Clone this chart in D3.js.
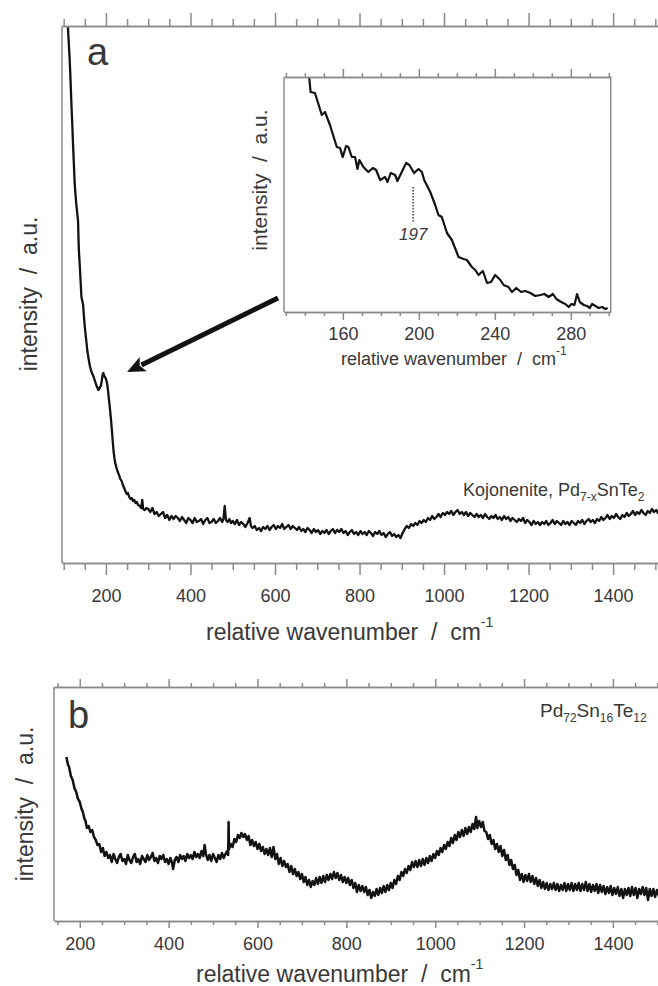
<!DOCTYPE html>
<html>
<head>
<meta charset="utf-8">
<script src="https://cdn.jsdelivr.net/npm/d3@7"></script>
<style>
  body { margin: 0; background: #fff; }
  svg { display: block; font-family: "Liberation Sans", Arial, sans-serif; }
</style>
</head>
<body>
<svg id="chart" width="658" height="986"></svg>
<script>
// --- data (wavenumber cm-1, intensity a.u.) ---
const kojonenite = [
  [108,545],[110,536],[112,520],[114,505],[116,485],[118,462],[120,442],[122,420],[124,400],[126,380],
  [128,368],[130,358],[132,350],[134,342],[135,325],[136,312],[138,298],[140,282],[142,266],[144,262],
  [146,258],[148,246],[150,236],[153,224],[156,212],[159,204],[162,197],[165,192],[168,189],[171,186],
  [174,182],[177,178],[180,175],[182,173],[184,174],[186,176],[188,177],[190,182],[192,188],[194,190],
  [196,187],[198,186],[200,184],[202,181],[204,176],[206,168],[208,160],[210,152],[212,143],[214,133],
  [216,122],[218,112],[220,105],[222,100],[225,95],[228,91],[231,88],[234,84],[237,82],[240,78],
  [243,75],[246,72],[249,69],[252,70],[255,66],[258,64],[261,65],[264,62],[267,63],[270,60],
  [273,61],[276,58],[280,57],[283,55],[286,63],[288,54],[292,53],[296,55],
  [300,54],[305,51],[310,55],[315,49],[320,51],[325,47],[330,49],[335,51],[340,45],[345,48],
  [350,43],[355,47],[360,44],[365,47],[370,45],[375,42],[380,46],[385,43],[390,40],[395,45],
  [400,43],[405,40],[410,45],[415,41],[420,42],[425,44],[430,39],[435,43],[440,45],[445,40],
  [450,41],[455,44],[460,40],[465,42],[470,45],[475,41],[478,44],[481,57],[484,43],[488,41],
  [492,44],[496,40],[500,42],[505,39],[510,43],[515,38],[520,41],[525,39],[530,36],[535,40],
  [540,45],[543,37],[547,35],[552,37],[557,33],[562,35],[567,32],[572,36],[577,34],[582,37],
  [587,33],[592,36],[597,38],[602,34],[607,37],[612,35],[617,39],[622,34],[627,36],[632,38],
  [637,34],[642,37],[647,35],[652,33],[657,36],[662,32],[667,34],[672,31],[677,35],[682,33],
  [687,30],[692,34],[697,31],[702,33],[707,29],[712,32],[717,30],[722,33],[727,29],[732,32],
  [737,34],[742,30],[747,33],[752,31],[757,34],[762,30],[767,32],[772,28],[777,31],[782,33],
  [787,29],[792,31],[797,28],[802,32],[807,29],[812,31],[817,28],[822,32],[827,30],[832,27],
  [837,31],[842,29],[847,32],[852,28],[857,30],[862,26],[867,29],[872,31],[877,27],[882,29],
  [887,26],[892,28],[897,25],[902,30],[907,34],[912,37],[917,35],[922,39],[927,37],[932,40],
  [937,38],[942,42],[947,40],[952,43],[957,41],[962,45],[967,43],[972,47],[977,44],[982,46],
  [987,49],[992,46],[997,50],[1002,48],[1007,51],[1012,49],[1017,52],[1022,48],[1027,51],[1032,53],
  [1037,49],[1042,51],[1047,48],[1052,51],[1057,47],[1062,50],[1067,48],[1072,46],[1077,49],[1082,46],
  [1087,48],[1092,45],[1097,49],[1102,46],[1107,44],[1112,47],[1117,45],[1122,48],[1127,44],[1132,46],
  [1137,43],[1142,47],[1147,44],[1152,46],[1157,42],[1162,45],[1167,43],[1172,41],[1177,44],[1182,42],
  [1187,45],[1192,40],[1197,43],[1202,41],[1207,38],[1212,42],[1217,39],[1222,41],[1227,38],[1232,41],
  [1237,39],[1242,42],[1247,38],[1252,40],[1257,43],[1262,39],[1267,42],[1272,40],[1277,38],[1282,42],
  [1287,39],[1292,41],[1297,38],[1302,42],[1307,40],[1312,38],[1317,42],[1322,40],[1327,43],[1332,39],
  [1337,42],[1342,44],[1347,41],[1352,43],[1357,40],[1362,44],[1367,42],[1372,46],[1377,43],[1382,45],
  [1387,48],[1392,44],[1397,47],[1402,45],[1407,49],[1412,46],[1417,44],[1422,48],[1427,46],[1432,50],
  [1437,47],[1442,49],[1447,52],[1452,48],[1457,51],[1462,49],[1467,53],[1472,50],[1477,48],[1482,52],
  [1487,50],[1492,54],[1497,51],[1502,53],[1506,50],[1510,52]
];

const kojoneniteInset = [
  [142.3,234],[143,220],[145.3,219],[148.9,197],[150.6,200],[153.2,187],[156.8,165],[158.5,164],[159.9,155],[161.7,166],
  [162.9,165],[164.7,155],[166.4,155],[167.7,143],[168.7,152],[170.8,145],[173.4,140],[175.8,144],[177.5,142],[179.6,132],
  [182.2,135],[183.5,130],[185.2,139],[187.5,137],[188.7,131],[191,140],[193.3,149],[195,147],[197.5,139],[199.8,143],
  [201.6,140],[202.8,132],[206,120],[208.6,107],[210.3,97],[212.1,95],[214.8,79],[217.4,72],[220.9,55],[223.5,53],
  [225.3,52],[227.9,45],[229.7,42],[231.4,37],[233.7,41],[235.9,29],[238,30],[240.2,37],[242.9,32],[244.6,27],
  [247.2,25],[249,20],[251.3,24],[253.8,20],[256,21],[258.7,19],[261.3,16],[264,17],[266.1,18],[268.3,15],
  [270.6,18],[272.4,13],[274.9,10],[277.1,8],[278.9,5],[280.3,8],[281.9,7],[283.3,18],[284.7,10],[286.8,7],
  [288.6,6],[290,4],[291.2,8],[293,6],[294.7,4],[296.5,5],[298.2,3],[299.4,4]
];

const pdSnTe = [
  [170,164],[173,157],[176,154],[180,145],[184,141],[188,133],[192,129],[196,122],[200,119],[204,112],
  [207,109],[210,103],[213,100],[216,93],[220,95],[224,89],[228,91],[232,84],[236,81],[240,76],
  [244,77],[248,69],[252,73],[256,65],[260,69],[264,63],[268,66],[272,59],[276,67],[280,62],
  [284,58],[288,64],[292,67],[296,60],[300,62],[304,57],[308,66],[312,61],[316,58],[320,64],
  [324,67],[328,59],[332,62],[336,57],[340,65],[344,62],[348,59],[352,66],[356,61],[360,64],
  [364,68],[368,60],[372,63],[376,58],[380,65],[384,62],[388,66],[392,59],[396,62],[400,57],
  [404,63],[408,58],[410,52],[414,61],[418,64],[422,59],[426,66],[430,62],[434,65],[438,60],
  [442,67],[446,63],[450,66],[454,62],[458,69],[462,64],[466,67],[470,63],[474,70],[478,65],
  [481,76],[484,67],[488,61],[492,66],[496,60],[500,67],[504,63],[508,59],[512,66],[516,62],
  [520,68],[524,63],[528,67],[532,70],[534,66],[535,99],[536,72],[540,77],[544,74],[548,82],
  [552,79],[556,86],[560,83],[564,88],[568,84],[572,87],[576,81],[580,85],[584,76],[588,81],
  [592,75],[596,79],[600,72],[604,77],[608,70],[612,74],[616,67],[620,72],[624,66],[628,73],
  [632,64],[636,74],[640,62],[644,67],[648,57],[652,63],[656,55],[660,60],[664,54],[668,57],
  [672,49],[676,55],[680,47],[684,52],[688,45],[692,49],[696,42],[700,47],[704,39],[708,44],
  [712,36],[716,41],[720,34],[724,40],[728,36],[732,43],[736,37],[740,44],[744,38],[748,45],
  [752,39],[756,46],[760,41],[764,47],[768,42],[772,49],[776,43],[780,48],[784,41],[788,46],
  [792,39],[796,44],[800,38],[804,43],[808,36],[812,41],[816,33],[820,38],[824,29],[828,36],
  [832,30],[836,35],[840,29],[844,34],[848,26],[852,31],[856,23],[860,29],[864,25],[868,32],
  [872,26],[876,33],[880,28],[884,35],[888,29],[892,36],[896,31],[900,38],[904,33],[908,41],
  [912,37],[916,45],[920,41],[924,49],[928,45],[932,52],[936,48],[940,55],[944,51],[948,59],
  [952,54],[956,60],[960,54],[964,61],[968,55],[972,62],[976,56],[980,63],[984,58],[988,65],
  [992,60],[996,67],[1000,63],[1004,70],[1008,66],[1012,73],[1016,69],[1020,76],[1024,72],[1028,79],
  [1032,75],[1036,83],[1040,78],[1044,86],[1048,81],[1052,89],[1056,84],[1060,91],[1064,85],[1068,93],
  [1072,87],[1076,94],[1080,89],[1084,97],[1088,92],[1092,104],[1095,93],[1099,100],[1103,94],[1107,99],
  [1111,90],[1115,89],[1119,82],[1123,86],[1127,77],[1131,81],[1135,72],[1139,77],[1143,69],[1147,75],
  [1151,65],[1155,71],[1159,61],[1163,66],[1167,56],[1171,61],[1175,52],[1179,56],[1183,46],[1187,51],
  [1191,41],[1195,47],[1199,39],[1203,46],[1207,40],[1211,47],[1215,39],[1219,45],[1223,37],[1227,43],
  [1231,35],[1235,41],[1239,33],[1243,39],[1247,32],[1251,38],[1255,31],[1259,37],[1263,32],[1267,38],
  [1271,31],[1275,37],[1279,30],[1283,36],[1287,31],[1291,38],[1295,30],[1299,37],[1303,31],[1307,38],
  [1311,30],[1315,37],[1319,31],[1323,38],[1327,30],[1331,37],[1335,31],[1339,39],[1343,30],[1347,37],
  [1351,29],[1355,36],[1359,30],[1363,37],[1367,28],[1371,36],[1375,29],[1379,35],[1383,27],[1387,34],
  [1391,28],[1395,35],[1399,26],[1403,33],[1407,27],[1411,34],[1415,25],[1419,32],[1423,23],[1427,32],
  [1431,26],[1435,33],[1439,25],[1443,34],[1447,26],[1451,33],[1455,23],[1459,32],[1463,27],[1467,34],
  [1471,26],[1475,33],[1479,21],[1483,32],[1487,25],[1491,32],[1495,24],[1499,31],[1503,26],[1506,30]
];

// ticks
const majorTicksA = [200, 400, 600, 800, 1000, 1200, 1400];
const minorTicksA = [100, 150, 250, 300, 350, 450, 500, 550, 650, 700, 750, 850, 900, 950,
                     1050, 1100, 1150, 1250, 1300, 1350, 1450, 1500];
const majorTicksB = majorTicksA;
const minorTicksB = minorTicksA.filter(t => t >= 150);
const majorTicksInset = [160, 200, 240, 280];
const minorTicksInset = [130, 140, 150, 170, 180, 190, 210, 220, 230, 250, 260, 270, 290, 300];
const peakLabel = 197;

const TEXT = '#383838';
const FRAME = '#8a8a8a';
const INK = '#121212';

const svg = d3.select('#chart');

// draws left spine + mirrored top/bottom tick axes
function drawFrame(g, x, top, bottom, o) {
  g.append('line')
    .attr('x1', x.range()[0]).attr('x2', x.range()[0])
    .attr('y1', top).attr('y2', bottom)
    .attr('stroke', FRAME).attr('stroke-width', 1.5);

  const axes = [
    [d3.axisTop(x).tickValues(o.minor).tickSize(o.minorUp), top, false],
    [d3.axisTop(x).tickValues(o.major).tickSize(o.majorUp), top, false],
    [d3.axisBottom(x).tickValues(o.minor).tickSize(o.minorDown), bottom, false],
    [d3.axisBottom(x).tickValues(o.major).tickSize(o.majorDown).tickPadding(o.pad), bottom, true]
  ];
  axes.forEach(([ax, y, labels]) => {
    ax.tickSizeOuter(0).tickFormat(labels ? d3.format('d') : '');
    const a = g.append('g').attr('transform', `translate(0,${y})`).call(ax);
    a.selectAll('path, line').attr('stroke', FRAME).attr('stroke-width', 1.5);
    a.selectAll('text')
      .attr('fill', TEXT)
      .attr('font-size', o.fontSize)
      .attr('font-family', '"Liberation Sans", Arial, sans-serif');
  });
}

function axisTitle(g, x, y, size, supSize) {
  const t = g.append('text')
    .attr('x', x).attr('y', y)
    .attr('fill', TEXT)
    .attr('font-size', size)
    .style('white-space', 'pre');
  t.append('tspan').text('relative wavenumber  /  cm');
  t.append('tspan').attr('dy', -size * 0.55).attr('font-size', supSize).text('-1');
}

function yTitle(g, x, y, size) {
  g.append('text')
    .attr('transform', `translate(${x},${y}) rotate(-90)`)
    .attr('text-anchor', 'middle')
    .attr('fill', TEXT)
    .attr('font-size', size)
    .style('white-space', 'pre')
    .text('intensity  /  a.u.');
}

// ---------------- panel a ----------------
const xA = d3.scaleLinear().domain([96, 1511]).range([62, 660]);
const yA = d3.scaleLinear().domain([0, 537]).range([563, 26]);

const gA = svg.append('g');
svg.append('defs').append('clipPath').attr('id', 'clipA')
  .append('rect').attr('x', 62).attr('y', 26).attr('width', 598).attr('height', 537);

gA.append('path')
  .datum(kojonenite)
  .attr('clip-path', 'url(#clipA)')
  .attr('fill', 'none')
  .attr('stroke', INK)
  .attr('stroke-width', 2.3)
  .attr('stroke-linejoin', 'round')
  .attr('d', d3.line().x(d => xA(d[0])).y(d => yA(d[1])));

drawFrame(gA, xA, 26, 563, {
  major: majorTicksA, minor: minorTicksA,
  majorUp: 13, minorUp: 7, majorDown: 12, minorDown: 7, pad: 14, fontSize: 18
});

gA.append('text').attr('x', 87).attr('y', 65)
  .attr('font-size', 38).attr('fill', TEXT).text('a');

yTitle(gA, 37, 294, 23);
axisTitle(gA, 206, 640, 23, 14);

const koj = gA.append('text').attr('x', 463).attr('y', 496)
  .attr('font-size', 18).attr('fill', TEXT);
koj.append('tspan').text('Kojonenite, Pd');
koj.append('tspan').attr('dy', 5).attr('font-size', 12).text('7-x');
koj.append('tspan').attr('dy', -5).text('SnTe');
koj.append('tspan').attr('dy', 5).attr('font-size', 12).text('2');

// ---------------- inset ----------------
const xI = d3.scaleLinear().domain([129, 301]).range([284, 610.7]);
const yI = d3.scaleLinear().domain([0, 235]).range([312, 77]);
const gI = svg.append('g');

gI.append('line')
  .attr('x1', 610.7).attr('x2', 610.7).attr('y1', 77).attr('y2', 312)
  .attr('stroke', FRAME).attr('stroke-width', 1.5);

gI.append('path')
  .datum(kojoneniteInset)
  .attr('fill', 'none')
  .attr('stroke', INK)
  .attr('stroke-width', 2.2)
  .attr('stroke-linejoin', 'round')
  .attr('d', d3.line().x(d => xI(d[0])).y(d => yI(d[1])));

drawFrame(gI, xI, 77, 312, {
  major: majorTicksInset, minor: minorTicksInset,
  majorUp: 8, minorUp: 4, majorDown: 8, minorDown: 4, pad: 7, fontSize: 18
});

gI.append('line')
  .attr('x1', xI(peakLabel)).attr('x2', xI(peakLabel))
  .attr('y1', yI(125)).attr('y2', yI(89))
  .attr('stroke', '#444').attr('stroke-width', 1.5)
  .attr('stroke-dasharray', '1.5,1.5');
gI.append('text')
  .attr('x', xI(peakLabel)).attr('y', 240)
  .attr('text-anchor', 'middle')
  .attr('font-size', 17).attr('font-style', 'italic')
  .attr('fill', TEXT).text(peakLabel);

yTitle(gI, 267, 180, 21);
axisTitle(gI, 341, 365, 18, 12);

// arrow from inset to the 197 feature
const tip = [xA(250), yA(191)];
const tail = [xI(129) - 6, yI(0) - 14];
const ang = Math.atan2(tip[1] - tail[1], tip[0] - tail[0]);
const headLen = 18, headW = 8;
const base = [tip[0] - headLen * Math.cos(ang), tip[1] - headLen * Math.sin(ang)];
svg.append('line')
  .attr('x1', tail[0]).attr('y1', tail[1])
  .attr('x2', base[0] + 2 * Math.cos(ang)).attr('y2', base[1] + 2 * Math.sin(ang))
  .attr('stroke', INK).attr('stroke-width', 5);
svg.append('path')
  .attr('fill', INK)
  .attr('d', `M${tip[0]},${tip[1]}` +
    `L${base[0] + headW * Math.sin(ang)},${base[1] - headW * Math.cos(ang)}` +
    `L${base[0] + 4 * Math.cos(ang)},${base[1] + 4 * Math.sin(ang)}` +
    `L${base[0] - headW * Math.sin(ang)},${base[1] + headW * Math.cos(ang)}Z`);

// ---------------- panel b ----------------
const xB = d3.scaleLinear().domain([142, 1506]).range([54, 660]);
const yB = d3.scaleLinear().domain([0, 234]).range([921, 687]);
const gB = svg.append('g');

gB.append('path')
  .datum(pdSnTe)
  .attr('fill', 'none')
  .attr('stroke', INK)
  .attr('stroke-width', 2.5)
  .attr('stroke-linejoin', 'round')
  .attr('d', d3.line().x(d => xB(d[0])).y(d => yB(d[1])));

drawFrame(gB, xB, 687, 921, {
  major: majorTicksB, minor: minorTicksB,
  majorUp: 8, minorUp: 4, majorDown: 7, minorDown: 4, pad: 9, fontSize: 18
});

gB.append('text').attr('x', 68).attr('y', 728)
  .attr('font-size', 38).attr('fill', TEXT).text('b');

yTitle(gB, 33, 804, 23);
axisTitle(gB, 196, 982, 23, 14);

const pd = gB.append('text').attr('x', 540).attr('y', 717)
  .attr('font-size', 19).attr('fill', TEXT);
[['Pd', 0], ['72', 1], ['Sn', 0], ['16', 1], ['Te', 0], ['12', 1]].forEach(([s, sub], i, arr) => {
  const prev = i > 0 ? arr[i - 1][1] : 0;
  pd.append('tspan')
    .attr('dy', sub === prev ? 0 : (sub ? 5 : -5))
    .attr('font-size', sub ? 12 : 19)
    .text(s);
});
</script>
</body>
</html>
